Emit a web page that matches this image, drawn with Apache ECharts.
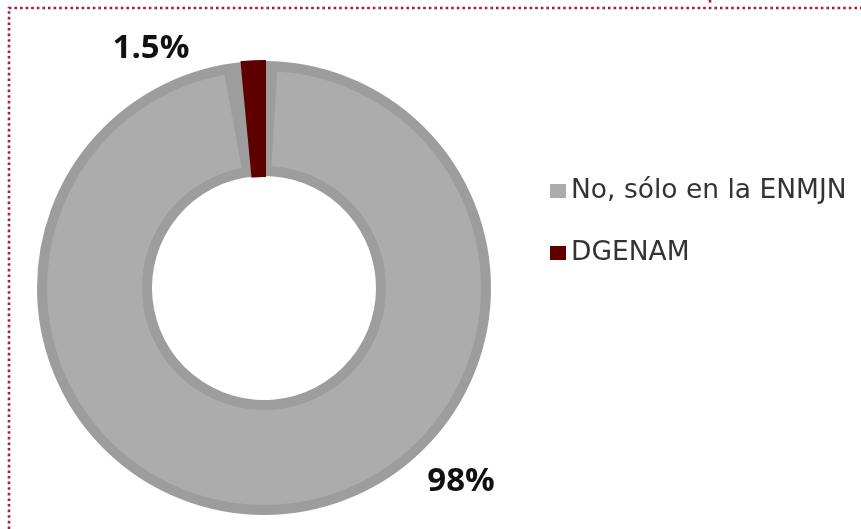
<!DOCTYPE html>
<html>
<head>
<meta charset="utf-8">
<script src="https://cdn.jsdelivr.net/npm/echarts@6/dist/echarts.min.js"></script>
<style>
html,body{margin:0;padding:0;background:#fff;}
#c{width:861px;height:529px;}
</style>
</head>
<body>
<div id="c"></div>
<script>
const categories = ['No, sólo en la ENMJN', 'DGENAM'];
const values = [98, 1.5];
const fillColors = ['#acacac', '#5e0000'];
const edgeColors = ['#9d9d9d', '#5e0000'];

const chart = echarts.init(document.getElementById('c'), null, {renderer: 'canvas'});

const labelPos = [
  {x: 461, y: 482},
  {x: 151, y: 49}
];

const option = {
  backgroundColor: '#ffffff',
  animation: false,
  legend: {
    orient: 'vertical',
    left: 545,
    top: 171,
    itemWidth: 16,
    itemHeight: 14,
    itemGap: 32,
    icon: 'rect',
    selectedMode: false,
    textStyle: {fontFamily: 'DejaVu Sans', fontSize: 26.5, color: '#333333', lineHeight: 30},
    data: categories.map((n, i) => ({name: n, itemStyle: {color: fillColors[i], borderWidth: 0}}))
  },
  graphic: [
    {type: 'polyline', silent: true, shape: {points: [[9, 529], [9, 8], [861, 8]]},
     style: {stroke: '#a51f3f', lineWidth: 2.6, lineDash: [2.6, 3], fill: null}},
    {type: 'line', silent: true, shape: {x1: 710, y1: 0, x2: 710, y2: 5},
     style: {stroke: '#a51f3f', lineWidth: 2.6, lineDash: [2.6, 3]}}
  ],
  series: [
    {
      type: 'pie',
      center: [264, 288],
      radius: [113, 226],
      startAngle: 90,
      clockwise: true,
      silent: true,
      emphasis: {disabled: true},
      label: {
        show: true,
        position: 'outside',
        formatter: '{c}%',
        fontFamily: 'Open Sans',
        fontWeight: 'bold',
        fontSize: 33,
        color: '#111111'
      },
      labelLine: {show: false},
      labelLayout: function (p) {
        const pos = labelPos[p.dataIndex];
        return {x: pos.x, y: pos.y, align: 'center', verticalAlign: 'middle'};
      },
      data: categories.map((n, i) => ({
        name: n, value: values[i],
        itemStyle: {color: edgeColors[i], borderColor: edgeColors[i], borderWidth: i === 1 ? 4 : 2, borderJoin: 'miter'}
      }))
    },
    {
      type: 'pie',
      center: [264, 288],
      radius: [122, 217],
      startAngle: 90,
      clockwise: true,
      padAngle: 7,
      silent: true,
      emphasis: {disabled: true},
      legendHoverLink: false,
      label: {show: false},
      labelLine: {show: false},
      data: categories.map((n, i) => ({
        name: n, value: values[i],
        itemStyle: {color: i === 0 ? fillColors[0] : 'rgba(0,0,0,0)'}
      }))
    }
  ]
};
chart.setOption(option);
</script>
</body>
</html>
